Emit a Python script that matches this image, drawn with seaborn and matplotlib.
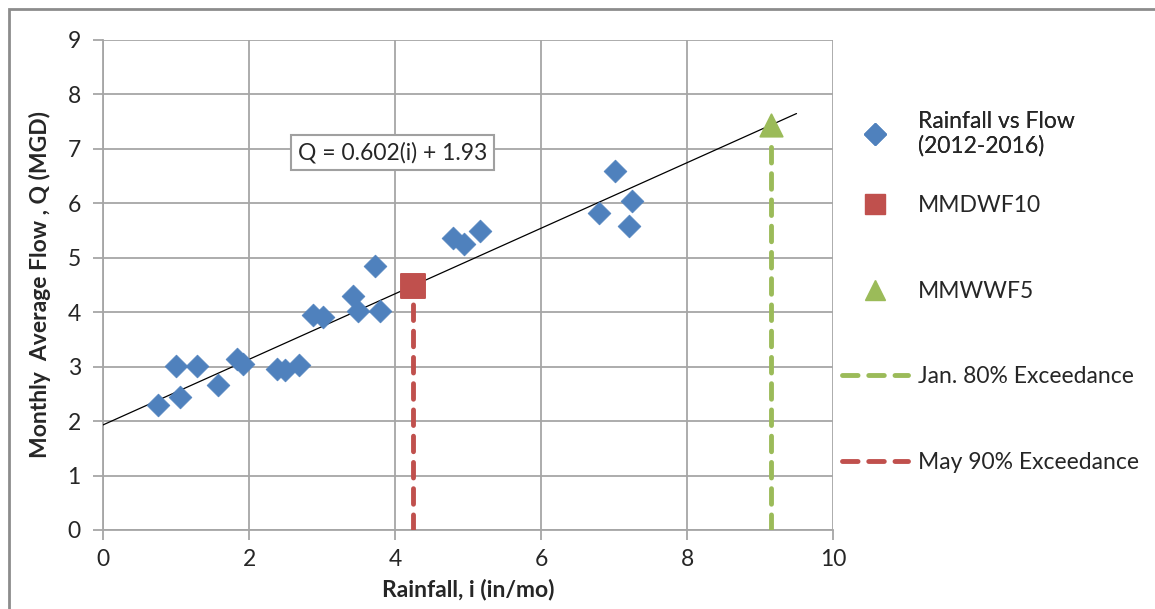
import matplotlib
matplotlib.use('Agg')
import numpy as np
import matplotlib.pyplot as plt
import seaborn as sns
from matplotlib.lines import Line2D
from matplotlib.patches import Rectangle

# rainfall (in/mo) vs monthly average flow (MGD), 2012-2016
rain = [0.76, 1.00, 1.05, 1.29, 1.58, 1.84, 1.92, 2.38, 2.49, 2.68, 2.88, 3.01,
        3.42, 3.49, 3.73, 3.79, 4.80, 4.95, 5.17, 6.79, 7.01, 7.25, 7.20]
flow = [2.30, 3.01, 2.44, 3.01, 2.66, 3.14, 3.05, 2.96, 2.93, 3.03, 3.95, 3.92,
        4.29, 4.03, 4.84, 4.03, 5.36, 5.25, 5.50, 5.82, 6.59, 6.05, 5.59]

# trendline coefficients
slope = 0.602
intercept = 1.93
trend_x = [0, 9.5]

# design flows
mmdwf10 = (4.24, 4.49)   # May 90% exceedance rainfall
mmwwf5 = (9.15, 7.44)    # Jan. 80% exceedance rainfall

blue = '#4F81BD'
red = '#C0504D'
green = '#9BBB59'
grid_c = '#A6A6A6'
fs = 16.5
dash = (0, (3.2, 2.2))

sns.set_style('white')
plt.rcParams['font.family'] = ['Lato', 'DejaVu Sans']

fig = plt.figure(figsize=(11.55, 6.09), dpi=100)
ax = fig.add_axes([103 / 1155, 1 - 530 / 609, 730 / 1155, 490 / 609])

# chart border (only top and left visible in the crop)
fig.patches.append(Rectangle((9 / 1155, -0.1), 1.2, 1.1 - 9 / 609, transform=fig.transFigure,
                             fill=False, edgecolor='#8C8C8C', linewidth=2, zorder=0))

# exceedance lines
ax.plot([mmwwf5[0], mmwwf5[0]], [0, mmwwf5[1] - 0.25], color=green, lw=3.5,
        linestyle=dash, dash_capstyle='round', zorder=3)
ax.plot([mmdwf10[0], mmdwf10[0]], [0, mmdwf10[1] - 0.2], color=red, lw=3.5,
        linestyle=dash, dash_capstyle='round', zorder=3)

# trendline
tx = np.array(trend_x)
sns.lineplot(x=tx, y=slope * tx + intercept, color='black', lw=0.9, ax=ax, zorder=4)

sns.scatterplot(x=rain, y=flow, marker='D', s=135, color=blue, edgecolor=blue,
                linewidth=0.5, ax=ax, zorder=5)
sns.scatterplot(x=[mmdwf10[0]], y=[mmdwf10[1]], marker='s', s=300, color=red,
                edgecolor=red, ax=ax, zorder=6)
sns.scatterplot(x=[mmwwf5[0]], y=[mmwwf5[1]], marker='^', s=260, color=green,
                edgecolor=green, ax=ax, zorder=6)

ax.text(3.97, 6.93, 'Q = 0.602(i) + 1.93', ha='center', va='center', fontsize=fs,
        color='#262626', zorder=7,
        bbox=dict(boxstyle='square,pad=0.3', facecolor='white', edgecolor='#A0A0A0', lw=1.5))

ax.set_xlim(0, 10)
ax.set_ylim(0, 9)
ax.set_xticks(range(0, 11, 2))
ax.set_yticks(range(0, 10))
ax.grid(True, color=grid_c, lw=1.3)
ax.set_axisbelow(True)
for side in ['top', 'right']:
    ax.spines[side].set_visible(False)
for side in ['left', 'bottom']:
    ax.spines[side].set_color(grid_c)
    ax.spines[side].set_linewidth(1.3)
ax.tick_params(axis='both', length=7, width=1.3, color=grid_c, labelsize=fs,
               labelcolor='#262626', direction='out', left=True, bottom=True)
ax.tick_params(axis='x', pad=7)
ax.tick_params(axis='y', pad=9)

ax.set_xlabel('Rainfall, i (in/mo)', fontsize=fs, fontweight='bold', labelpad=6)
ax.set_ylabel('Monthly  Average Flow , Q (MGD)', fontsize=fs, fontweight='bold', labelpad=12)

# legend: first (two-line) entry, then the rest with even spacing
leg_kw = dict(loc='upper left', frameon=False, fontsize=fs, handlelength=2.9,
              handletextpad=0.4, borderpad=0, borderaxespad=0, labelcolor='#262626')
h_first = [Line2D([], [], marker='D', color=blue, ls='none', markersize=11)]
leg1 = fig.legend(h_first, ['Rainfall vs Flow\n(2012-2016)'],
                  bbox_to_anchor=(842 / 1155, 1 - 111 / 609), **leg_kw)
fig.add_artist(leg1)

h_rest = [
    Line2D([], [], marker='s', color=red, ls='none', markersize=14),
    Line2D([], [], marker='^', color=green, ls='none', markersize=14),
    Line2D([], [], color=green, lw=3.5, linestyle=dash, dash_capstyle='round'),
    Line2D([], [], color=red, lw=3.5, linestyle=dash, dash_capstyle='round'),
]
fig.legend(h_rest, ['MMDWF10', 'MMWWF5', 'Jan. 80% Exceedance', 'May 90% Exceedance'],
           bbox_to_anchor=(842 / 1155, 1 - 195 / 609), labelspacing=2.82, **leg_kw)

fig.savefig('out.png', dpi=100)
